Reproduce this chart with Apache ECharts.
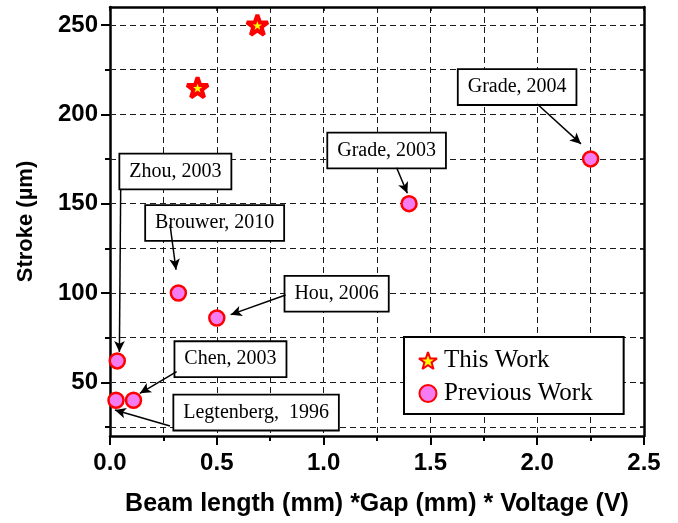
<!DOCTYPE html>
<html>
<head>
<meta charset="utf-8">
<title>Stroke vs beam length x gap x voltage</title>
<script src="https://cdn.jsdelivr.net/npm/echarts@6/dist/echarts.min.js"></script>
<style>
  html, body { margin: 0; padding: 0; background: #ffffff; }
  #chart { width: 678px; height: 523px; }
</style>
</head>
<body>
<div id="chart"></div>
<script>
// ---- data ----
const thisWorkX = [0.41, 0.69];
const thisWorkY = [215, 250];

const prevWorkNames = ['Zhou, 2003', 'Legtenberg,  1996', 'Chen, 2003', 'Brouwer, 2010', 'Hou, 2006', 'Grade, 2003', 'Grade, 2004'];
const prevWorkX = [0.034, 0.028, 0.11, 0.32, 0.50, 1.40, 2.25];
const prevWorkY = [62, 40, 40, 100, 86, 150, 175];

const yMajorTicks = [50, 100, 150, 200, 250];
const yMinorTicks = [25, 75, 125, 175, 225];

// ---- callout boxes (centre, in axis units) and their arrows ----
const calloutText = ['Zhou, 2003', 'Brouwer, 2010', 'Hou, 2006', 'Chen, 2003', 'Legtenberg,  1996', 'Grade, 2003', 'Grade, 2004'];
const calloutBoxX = [0.306, 0.490, 1.061, 0.564, 0.684, 1.295, 1.906];
const calloutBoxY = [168.0, 139.2, 99.6, 63.0, 33.1, 179.7, 215.2];
const arrowFromX = [0.050, 0.281, 0.822, 0.312, 0.281, 1.342, 2.000];
const arrowFromY = [158.0, 138.2, 98.9, 56.0, 25.6, 170.1, 205.7];
const arrowToX   = [0.044, 0.309, 0.565, 0.140, 0.023, 1.392, 2.205];
const arrowToY   = [67.0, 113.0, 87.9, 43.9, 34.5, 155.8, 183.4];

// ---- styling helpers ----
const SANS = 'Liberation Sans, Arial, sans-serif';
const SERIF = 'Liberation Serif, Times New Roman, serif';
const STAR = 'path://M50,2 L61.8,36.2 L97.6,36.2 L68.9,57.6 L79.4,92 L50,71.4 L20.6,92 L31.1,57.6 L2.4,36.2 L38.2,36.2 Z';
const gridDash = { color: '#1a1a1a', width: 1, type: [6, 4] };

const chart = echarts.init(document.getElementById('chart'), null, { renderer: 'canvas' });

const zip = (xs, ys) => xs.map((x, i) => [x, ys[i]]);

const option = {
  animation: false,
  backgroundColor: '#ffffff',
  grid: { left: 110, right: 34, top: 7, bottom: 87, containLabel: false },
  legend: {
    orient: 'vertical',
    left: 404,
    top: 337,
    width: 224,
    padding: [11, 31, 8, 14],
    itemGap: 8,
    itemWidth: 22,
    itemHeight: 17,
    backgroundColor: '#ffffff',
    borderColor: '#000',
    borderWidth: 2,
    textStyle: { fontFamily: SERIF, fontSize: 25, color: '#000' },
    data: ['This Work', 'Previous Work']
  },
  xAxis: [
    {
      type: 'value', position: 'bottom', min: 0, max: 2.5, interval: 0.5,
      name: 'Beam length (mm) *Gap (mm) * Voltage (V)',
      nameLocation: 'middle', nameGap: 56,
      nameTextStyle: { fontFamily: SANS, fontWeight: 'bold', fontSize: 25, color: '#000' },
      axisLine: { show: true, onZero: false, lineStyle: { color: '#000', width: 2.5 } },
      axisTick: { show: true, inside: false, length: 9, lineStyle: { color: '#000', width: 2 } },
      minorTick: { show: true, splitNumber: 2, length: 5, lineStyle: { color: '#000', width: 2 } },
      axisLabel: {
        margin: 15, fontFamily: SANS, fontWeight: 'bold', fontSize: 24, color: '#000',
        formatter: v => v.toFixed(1)
      },
      splitLine: { show: true, lineStyle: gridDash },
      minorSplitLine: { show: true, lineStyle: gridDash }
    },
    {
      type: 'value', position: 'top', min: 0, max: 2.5, interval: 0.5,
      axisLine: { show: true, onZero: false, lineStyle: { color: '#000', width: 2.5 } },
      axisTick: { show: true, inside: true, length: 4, lineStyle: { color: '#000', width: 1.5 } },
      axisLabel: { show: false },
      splitLine: { show: false }
    }
  ],
  yAxis: [
    {
      type: 'value', position: 'left', min: 20, max: 260,
      name: 'Stroke (\u00b5m)', nameLocation: 'middle', nameGap: 73, nameRotate: 90,
      nameTextStyle: { fontFamily: SANS, fontWeight: 'bold', fontSize: 22, color: '#000' },
      axisLine: { show: true, onZero: false, lineStyle: { color: '#000', width: 2.5 } },
      axisTick: { show: true, inside: false, length: 9, customValues: yMajorTicks, lineStyle: { color: '#000', width: 2 } },
      axisLabel: { margin: 12, customValues: yMajorTicks, fontFamily: SANS, fontWeight: 'bold', fontSize: 24, color: '#000' },
      splitLine: { show: false }
    },
    {
      type: 'value', position: 'left', min: 20, max: 260,
      axisLine: { show: false },
      axisTick: { show: true, inside: false, length: 5, customValues: yMinorTicks, lineStyle: { color: '#000', width: 2 } },
      axisLabel: { show: false },
      splitLine: { show: false }
    },
    {
      type: 'value', position: 'right', min: 20, max: 260,
      axisLine: { show: true, onZero: false, lineStyle: { color: '#000', width: 2.5 } },
      axisTick: { show: true, inside: true, length: 4, customValues: yMajorTicks.concat(yMinorTicks), lineStyle: { color: '#000', width: 1.5 } },
      axisLabel: { show: false },
      splitLine: { show: false }
    }
  ],
  series: [
    {
      // dashed horizontal grid at every 25 µm
      name: 'grid', type: 'line', data: [], silent: true, z: 1,
      markLine: {
        z: 1,
        silent: true, symbol: ['none', 'none'], animation: false,
        label: { show: false },
        lineStyle: gridDash,
        data: yMajorTicks.concat(yMinorTicks).map(v => ({ yAxis: v }))
      }
    },
    {
      // callout boxes with arrows pointing at the marked works
      name: 'callouts', type: 'scatter', z: 6, silent: true,
      symbolSize: 1, itemStyle: { color: 'rgba(0,0,0,0)' },
      data: calloutText.map((t, i) => [calloutBoxX[i], calloutBoxY[i], t]),
      label: {
        show: true, position: 'inside', opacity: 1,
        formatter: p => p.data[2],
        fontFamily: SERIF, fontSize: 20, lineHeight: 21, color: '#000',
        textBorderWidth: 0,
        backgroundColor: '#ffffff', borderColor: '#000', borderWidth: 1.8,
        padding: [7, 9, 6, 9]
      },
      labelLayout: { hideOverlap: false },
      markLine: {
        z: 7,
        silent: true, animation: false,
        symbol: ['none', 'arrow'], symbolSize: [8, 11],
        label: { show: false },
        lineStyle: { color: '#000', width: 1.5, type: 'solid' },
        data: arrowFromX.map((x, i) => [
          { coord: [x, arrowFromY[i]] },
          { coord: [arrowToX[i], arrowToY[i]] }
        ])
      }
    },
    {
      name: 'Previous Work', type: 'scatter', z: 10,
      symbol: 'circle', symbolSize: 15,
      itemStyle: { color: '#f47cf0', borderColor: '#ff0000', borderWidth: 2.5, opacity: 1 },
      data: zip(prevWorkX, prevWorkY)
    },
    {
      name: 'This Work', type: 'scatter', z: 10,
      symbol: STAR, symbolKeepAspect: true, symbolSize: 21,
      itemStyle: { color: '#ffff00', borderColor: '#ff0000', borderWidth: 4, borderJoin: 'miter', borderMiterLimit: 3, opacity: 1 },
      data: zip(thisWorkX, thisWorkY)
    }
  ]
};

chart.setOption(option);
</script>
</body>
</html>
